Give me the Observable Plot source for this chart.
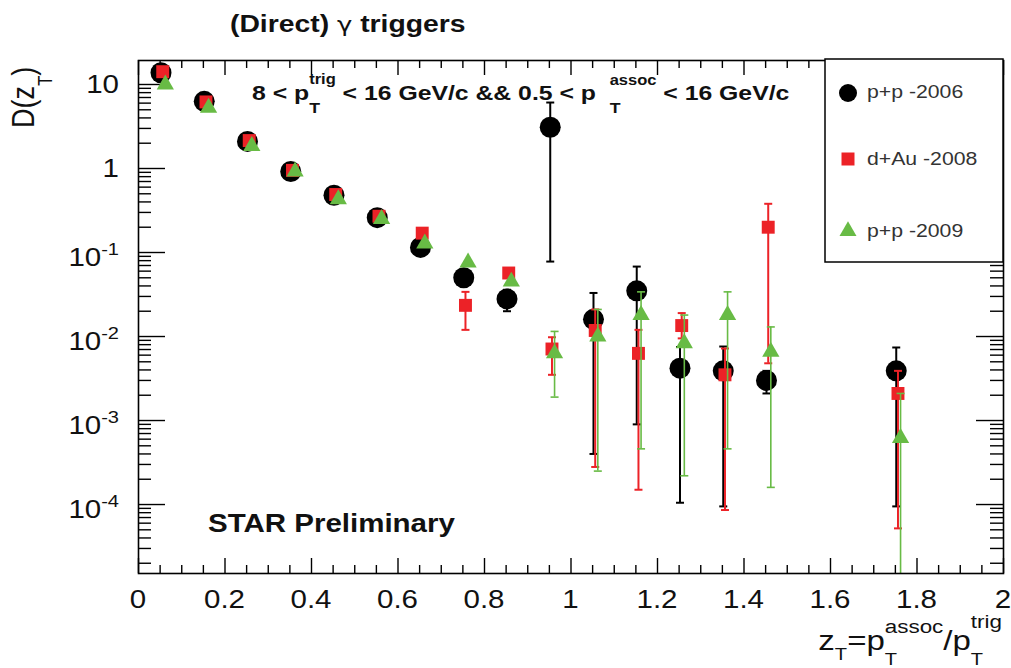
<!DOCTYPE html>
<html><head><meta charset="utf-8">
<script src="https://cdn.jsdelivr.net/npm/d3@7"></script>
<script src="https://cdn.jsdelivr.net/npm/@observablehq/plot@0.6"></script>
<style>
html,body{margin:0;padding:0;background:#fff;}
#chart svg{display:block;}
</style>
</head><body><div id="chart"></div>
<script>
// ---------------- data ----------------
const zT = [0.05,0.15,0.25,0.35,0.45,0.55,0.65,0.75,0.85,0.95,1.05,1.15,1.25,1.35,1.45,1.75];

const pp2006   = [13.8, 6.3, 2.1, 0.92, 0.48, 0.26, 0.115, 0.050, 0.028, 3.1, 0.016, 0.035, 0.0042, 0.0039, 0.0030, 0.0039];
const pp2006Lo = [null,null,null,null,null,null,null,null, 0.020, 0.078, 0.0004, 0.0009, 0.000105, 0.000095, 0.0021, 0.000095];
const pp2006Hi = [null,null,null,null,null,null,null,null, 0.036, 6.1, 0.033, 0.068, 0.0075, 0.0076, 0.0039, 0.0074];

const dAu2008   = [14.2, 6.2, 2.15, 0.95, 0.49, 0.27, 0.17, 0.0235, 0.057, 0.0071, 0.0118, 0.0063, 0.0135, 0.0035, 0.20, 0.0021];
const dAu2008Lo = [null,null,null,null,null,null,null, 0.012, null, 0.0035, 0.00028, 0.00015, 0.0095, 0.000086, 0.0048, 0.000052];
const dAu2008Hi = [null,null,null,null,null,null,null, 0.034, null, 0.0098, 0.021, 0.012, 0.019, 0.0072, 0.38, 0.0039];

const pp2009   = [10.0, 5.3, 1.85, 0.92, 0.43, 0.25, 0.128, 0.076, 0.045, 0.0063, 0.0100, 0.018, 0.0083, 0.018, 0.0066, 0.00062];
const pp2009Lo = [null,null,null,null,null,null,null,null,null, 0.0019, 0.00025, 0.00046, 0.00022, 0.00046, 0.00016, 0.000001];
const pp2009Hi = [null,null,null,null,null,null,null,null,null, 0.0115, 0.021, 0.034, 0.018, 0.034, 0.013, 0.0021];

const seriesLabels = ["p+p -2006", "d+Au -2008", "p+p -2009"];

const xTickVals   = [0,0.2,0.4,0.6,0.8,1,1.2,1.4,1.6,1.8,2];
const xTickLabels = ["0","0.2","0.4","0.6","0.8","1","1.2","1.4","1.6","1.8","2"];
const yTickVals   = [10, 1, 0.1, 0.01, 0.001, 0.0001];
const yTickBase   = ["10","1","10","10","10","10"];
const yTickExp    = ["","","-1","-2","-3","-4"];

// ---------------- layout / style ----------------
const W = 1011, H = 668, mL = 138, mR = 8, mT = 60, mB = 95;
const fw = W - mL - mR, fh = H - mT - mB;
const FONT = '"Liberation Sans", Arial, Helvetica, sans-serif';
const GREEKFONT = '"DejaVu Sans", sans-serif';
const SX = 1.18;
const RED = "#ec2227", GREEN = "#68bb45", BLACK = "#000";

const series = [
  {v: pp2006,  lo: pp2006Lo,  hi: pp2006Hi,  color: BLACK, symbol: "circle",   r: 10.5, shift: 0.002, ew: 2},
  {v: dAu2008, lo: dAu2008Lo, hi: dAu2008Hi, color: RED,   symbol: "square",   r: 7.3,  shift: 0.006, ew: 2},
  {v: pp2009,  lo: pp2009Lo,  hi: pp2009Hi,  color: GREEN, symbol: "triangle", r: 6.4,  shift: 0.012, ew: 1.6}
];

const yDomain = [1.51e-5, 19.3];

const capSymbol = {
  draw(context, size) {
    const w = Math.sqrt(size / Math.PI);
    context.moveTo(-w, 0);
    context.lineTo(w, 0);
  }
};

// ticks
const xMinor = d3.range(0, 2.0001, 0.05).filter(v => Math.abs(v / 0.2 - Math.round(v / 0.2)) > 1e-6);
const yMinor = [];
for (let n = -5; n <= 1; n++) for (let k = 2; k <= 9; k++) {
  const v = k * Math.pow(10, n);
  if (v > yDomain[0] && v < yDomain[1]) yMinor.push(v);
}

const marks = [
  Plot.tickX(xTickVals, {stroke: "#000", strokeWidth: 1.4, insetTop: fh - 15}),
  Plot.tickX(xMinor,    {stroke: "#000", strokeWidth: 1.4, insetTop: fh - 8}),
  Plot.tickX(xTickVals, {stroke: "#000", strokeWidth: 1.4, insetBottom: fh - 15}),
  Plot.tickX(xMinor,    {stroke: "#000", strokeWidth: 1.4, insetBottom: fh - 8}),
  Plot.tickY(yTickVals, {stroke: "#000", strokeWidth: 1.4, insetRight: fw - 27}),
  Plot.tickY(yMinor,    {stroke: "#000", strokeWidth: 1.4, insetRight: fw - 13}),
  Plot.tickY(yTickVals, {stroke: "#000", strokeWidth: 1.4, insetLeft: fw - 27}),
  Plot.tickY(yMinor,    {stroke: "#000", strokeWidth: 1.4, insetLeft: fw - 13})
];

for (const s of series) {
  const rows = zT.map((z, i) => ({x: z + s.shift, v: s.v[i], lo: s.lo[i], hi: s.hi[i]}));
  const err = rows.filter(d => d.lo != null && d.hi != null);
  marks.push(Plot.ruleX(err, {x: "x", y1: "lo", y2: "hi", stroke: s.color, strokeWidth: s.ew, clip: true}));
  marks.push(Plot.dot(err.filter(d => d.lo > yDomain[0]), {x: "x", y: "lo", symbol: capSymbol, r: 4, stroke: s.color, strokeWidth: s.ew, fill: "none"}));
  marks.push(Plot.dot(err.filter(d => d.hi < yDomain[1]), {x: "x", y: "hi", symbol: capSymbol, r: 4, stroke: s.color, strokeWidth: s.ew, fill: "none"}));
  marks.push(Plot.dot(rows, {x: "x", y: "v", symbol: s.symbol, r: s.r, fill: s.color, stroke: "none"}));
}
marks.push(Plot.frame({stroke: "#000", strokeWidth: 1.6}));

const chart = Plot.plot({
  width: W, height: H,
  marginLeft: mL, marginRight: mR, marginTop: mT, marginBottom: mB,
  x: {domain: [0, 2], axis: null},
  y: {type: "log", domain: yDomain, axis: null},
  style: {background: "#fff", fontFamily: FONT},
  marks
});
document.getElementById("chart").append(chart);

// ---------------- text helpers ----------------
const svg = d3.select(chart);
function rich(x, y, parts, {anchor = "start", sx = SX, rotate = 0, weight = "normal", fill = "#111"} = {}) {
  const g = svg.append("g")
    .attr("text-anchor", "start")
    .attr("transform", `translate(${x},${y}) scale(${sx},1)` + (rotate ? ` rotate(${rotate})` : ""));
  let cx = 0, start = 0;
  for (const p of parts) {
    const px = p.stack ? start : cx;
    const t = g.append("text")
      .attr("x", px).attr("y", p.dy || 0)
      .attr("text-anchor", "start")
      .attr("font-size", p.size)
      .attr("font-weight", p.weight || weight)
      .attr("font-family", p.family || FONT)
      .attr("fill", fill)
      .style("white-space", "pre")
      .text(p.t);
    const w = t.node().getComputedTextLength();
    if (!p.stack) start = px;
    cx = Math.max(cx, px + w);
  }
  const off = anchor === "end" ? -cx : anchor === "middle" ? -cx / 2 : 0;
  if (off) g.selectAll("text").attr("x", function() { return +this.getAttribute("x") + off; });
  return g;
}

const xs = chart.scale("x"), ys = chart.scale("y");

// x tick labels
xTickVals.forEach((v, i) => rich(xs.apply(v), 608, [{t: xTickLabels[i], size: 25}], {anchor: "middle"}));
// y tick labels
yTickVals.forEach((v, i) => {
  const py = ys.apply(v);
  if (yTickExp[i]) {
    rich(119, py + 14, [{t: yTickBase[i], size: 25}, {t: yTickExp[i], size: 17, dy: -11}], {anchor: "end"});
  } else {
    rich(119, py + 9, [{t: yTickBase[i], size: 25}], {anchor: "end"});
  }
});

// title
rich(230, 32, [
  {t: "(Direct) ", size: 24},
  {t: "\u03b3", size: 22, weight: "normal", family: GREEKFONT},
  {t: " triggers", size: 24}
], {weight: "bold"});

// y axis title (rotated)
rich(34, 128, [{t: "D(z", size: 27}, {t: "T", size: 17, dy: 15}, {t: ")", size: 27}], {rotate: -90});

// x axis title
rich(1002, 650, [
  {t: "z", size: 28}, {t: "T", size: 17, dy: 10},
  {t: "=p", size: 28},
  {t: "assoc", size: 19, dy: -17}, {t: "T", size: 17, dy: 15, stack: true},
  {t: "/p", size: 28},
  {t: "trig", size: 19, dy: -22}, {t: "T", size: 17, dy: 15, stack: true}
], {anchor: "end"});

// kinematic annotation
rich(252, 100, [
  {t: "8 < p", size: 21},
  {t: "trig", size: 14, dy: -16}, {t: "T", size: 15, dy: 13, stack: true},
  {t: " < 16 GeV/c && 0.5 < p  ", size: 21},
  {t: "assoc", size: 14, dy: -15}, {t: "T", size: 15, dy: 13, stack: true},
  {t: " < 16 GeV/c", size: 21}
], {weight: "bold"});

// STAR Preliminary
rich(208, 532, [{t: "STAR Preliminary", size: 25}], {weight: "bold"});

// legend
const lg = svg.append("g");
lg.append("rect").attr("x", 825).attr("y", 59).attr("width", 178).attr("height", 203)
  .attr("fill", "#fff").attr("stroke", "#000").attr("stroke-width", 1.5);
const legendSym = [
  {type: d3.symbolCircle, size: Math.PI * 81, color: BLACK, y: 93, ty: 98},
  {type: d3.symbolSquare, size: 169, color: RED, y: 159, ty: 165},
  {type: d3.symbolTriangle, size: 125, color: GREEN, y: 231, ty: 237}
];
legendSym.forEach((d, i) => {
  lg.append("path").attr("d", d3.symbol().type(d.type).size(d.size)())
    .attr("transform", `translate(848,${d.y})`).attr("fill", d.color);
  rich(867, d.ty, [{t: seriesLabels[i], size: 18}], {fill: "#333"});
});
</script>
</body></html>
